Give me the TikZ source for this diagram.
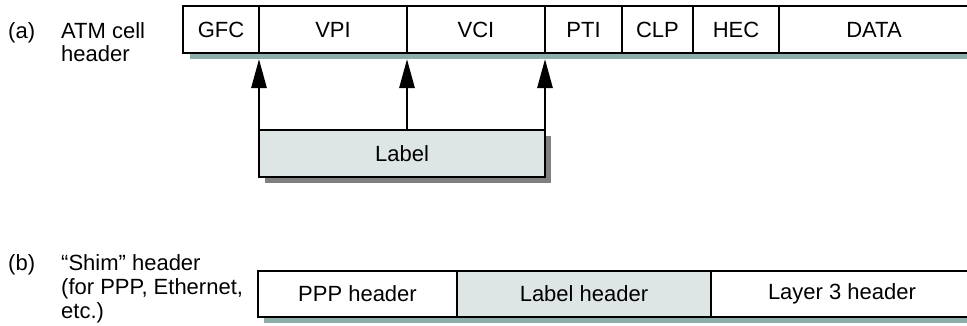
\documentclass[tikz,border=0pt]{standalone}
\usepackage{fontspec}
\setmainfont{Liberation Sans}
\usepackage{tikz}
\usetikzlibrary{arrows.meta, positioning, shadows, backgrounds}
\definecolor{rowShadow}{RGB}{142,174,172}
\definecolor{labelFill}{RGB}{222,229,229}
\definecolor{boxShadow}{RGB}{128,128,128}

\begin{document}
\begin{tikzpicture}[
    x=1pt, y=-1pt,
    font=\fontsize{22}{23.5}\selectfont,
    field/.style={draw, line width=1.6pt, inner sep=0pt, outer sep=0pt, minimum height=47pt},
    lblfield/.style={field, fill=labelFill},
    caption/.style={anchor=base west, inner sep=0pt, align=left},
    arrow/.style={-{Triangle[length=29pt, width=15pt]}, line width=2.8pt, shorten >=6pt}
  ]
    \useasboundingbox (0,0) rectangle (967,325);

    % (a) ATM cell header
    \node[caption] (tagA) at (8,38) {(a)};
    \node[caption] (capA) at (61,61.5) {ATM cell\\header};
    \node[field, minimum width=76pt, anchor=north west] (gfc) at (183,6) {GFC};
    \node[field, minimum width=148pt, right=0pt of gfc] (vpi) {VPI};
    \node[field, minimum width=138pt, right=0pt of vpi] (vci) {VCI};
    \node[field, minimum width=77pt, right=0pt of vci] (pti) {PTI};
    \node[field, minimum width=71pt, right=0pt of pti] (clp) {CLP};
    \node[field, minimum width=86pt, right=0pt of clp] (hec) {HEC};
    \node[field, minimum width=190pt, right=0pt of hec] (data) {DATA};

    \node[lblfield, minimum width=286pt, below=77pt of gfc.south east, anchor=north west,
          drop shadow={shadow xshift=6pt, shadow yshift=-6pt, fill=boxShadow, opacity=1}] (lbl) {Label};

    \draw[arrow] (lbl.north west) -- (gfc.south east);
    \draw[arrow] (lbl.north -| vpi.east) -- (vpi.south east);
    \draw[arrow] (lbl.north east) -- (vci.south east);

    % (b) shim header
    \node[caption] (tagB) at (8,270) {(b)};
    \node[caption, font=\fontsize{22}{24}\selectfont] (capB) at (61,318) {“Shim” header\\(for PPP, Ethernet,\\etc.)};
    \node[field, minimum height=46pt, minimum width=199pt, anchor=north west] (ppp) at (258,271) {PPP header};
    \node[lblfield, minimum height=46pt, minimum width=254pt, right=0pt of ppp] (shim) {Label header};
    \node[field, minimum height=46pt, minimum width=262pt, right=0pt of shim] (layer3) {Layer 3 header};

    \begin{scope}[on background layer]
      \fill[rowShadow] ([shift={(7,6)}]gfc.south west) rectangle (data.south east);
      \fill[rowShadow] ([shift={(6,6)}]ppp.south west) rectangle (layer3.south east);
    \end{scope}
  \end{tikzpicture}
\end{document}
